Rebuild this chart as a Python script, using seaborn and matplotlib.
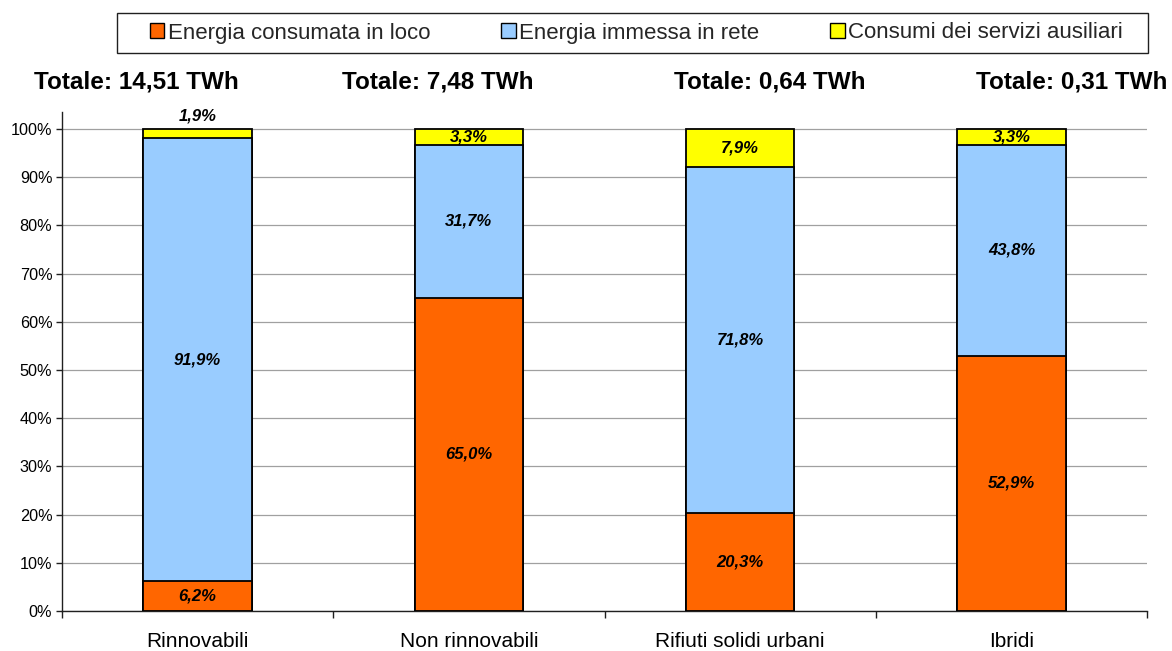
import numpy as np
import pandas as pd
import matplotlib
matplotlib.use("Agg")
import matplotlib.pyplot as plt
from matplotlib.patches import Patch, Rectangle
from matplotlib.ticker import FixedLocator, FuncFormatter
import seaborn as sns

categories = ["Rinnovabili", "Non rinnovabili", "Rifiuti solidi urbani", "Ibridi"]
consumata = [6.2, 65.0, 20.3, 52.9]
immessa = [91.9, 31.7, 71.8, 43.8]
ausiliari = [1.9, 3.3, 7.9, 3.3]
totali = ["Totale: 14,51 TWh", "Totale: 7,48 TWh", "Totale: 0,64 TWh", "Totale: 0,31 TWh"]
series_names = ["Energia consumata in loco", "Energia immessa in rete", "Consumi dei servizi ausiliari"]
colors = ["#FF6600", "#99CCFF", "#FFFF00"]

sns.set_theme(style="white")
plt.rcParams["font.family"] = ["Liberation Sans", "DejaVu Sans"]

df = pd.DataFrame({"cat": categories, "c": consumata, "i": immessa, "a": ausiliari})
df["top1"] = df["c"]
df["top2"] = df["c"] + df["i"]
df["top3"] = df["c"] + df["i"] + df["a"]

W, H = 1172, 651
fig = plt.figure(figsize=(W/100, H/100), dpi=100)
ax = fig.add_axes([62/W, 1-611/H, (1147-62)/W, (611-112)/H])

for col, colr in zip(["top3", "top2", "top1"], colors[::-1]):
    sns.barplot(data=df, x="cat", y=col, color=colr, width=0.4, ax=ax,
                edgecolor="black", linewidth=1.3, saturation=1, zorder=3)

ax.set_ylim(0, 103.5)
ax.set_xlim(-0.5, 3.5)
ax.yaxis.set_major_locator(FixedLocator(np.arange(0, 101, 10)))
ax.yaxis.set_major_formatter(FuncFormatter(lambda v, p: f"{int(round(v))}%"))
ax.grid(axis="y", color="#A0A0A0", linewidth=0.9, zorder=0)
ax.set_axisbelow(True)
ax.set_xlabel("")
ax.set_ylabel("")
for s in ["top", "right"]:
    ax.spines[s].set_visible(False)
for s in ["left", "bottom"]:
    ax.spines[s].set_color("#202020")
    ax.spines[s].set_linewidth(1.0)
ax.tick_params(axis="y", which="major", left=True, length=4, width=1, color="#202020",
               labelsize=11.7, labelcolor="black", pad=3)
ax.set_xticks(range(len(categories)))
ax.set_xticklabels(categories)
ax.xaxis.set_minor_locator(FixedLocator([-0.5, 0.5, 1.5, 2.5, 3.5]))
ax.tick_params(axis="x", which="major", bottom=True, length=0, labelsize=15,
               labelcolor="black", pad=15)
ax.tick_params(axis="x", which="minor", bottom=True, length=5, width=1, color="#202020")

lab_kw = dict(ha="center", va="center", fontsize=12, fontweight="bold",
              fontstyle="italic", color="black", zorder=5)
fmt = lambda v: f"{v:.1f}%".replace(".", ",")
for k in range(len(categories)):
    c, i, a = consumata[k], immessa[k], ausiliari[k]
    ax.text(k, c/2, fmt(c), **lab_kw)
    ax.text(k, c + i/2, fmt(i), **lab_kw)
    if a < 2.5:
        ax.text(k, c + i + a + 2.6, fmt(a), **lab_kw)
    else:
        ax.text(k, c + i + a/2, fmt(a), **lab_kw)

tot_x = [136, 438, 770, 1072]
for t, xp in zip(totali, tot_x):
    fig.text(xp/W, 1-82/H, t, ha="center", va="center", fontsize=17.5,
             fontweight="bold", color="black")

# legend frame
fig.patches.append(Rectangle((117/W, 1-53/H), (1148-117)/W, 40/H,
                             transform=fig.transFigure, facecolor="white",
                             edgecolor="#202020", linewidth=1.0, zorder=0))
handles = [Patch(facecolor=colr, edgecolor="black", linewidth=1.0) for colr in colors]
leg = fig.legend(handles, series_names, ncol=3, loc="center left",
                 bbox_to_anchor=(150/W, 1-33/H), fontsize=16,
                 frameon=False, handlelength=0.65, handleheight=0.65,
                 handletextpad=0.15, columnspacing=3.2, borderpad=0.0,
                 borderaxespad=0.0)

fig.savefig("out.png", dpi=100, facecolor="white")
